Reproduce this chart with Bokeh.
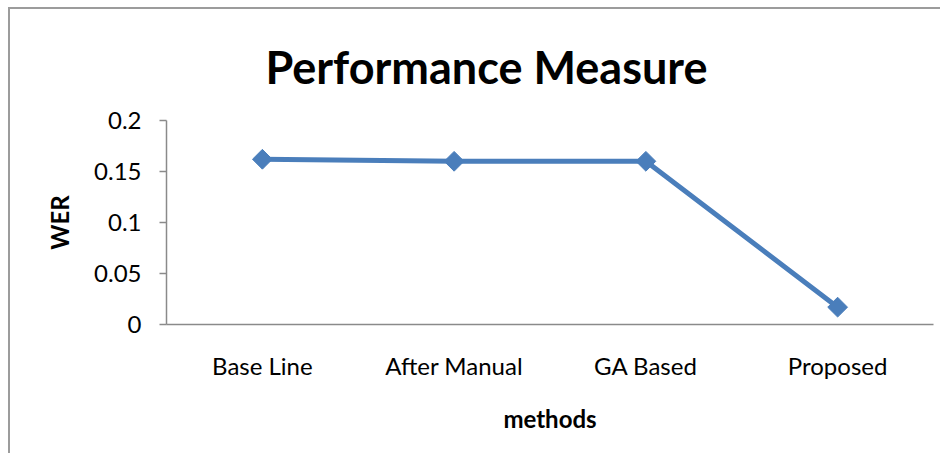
import numpy as np
from bokeh.plotting import figure
from bokeh.models import FactorRange, Range1d, FixedTicker, ColumnDataSource
from bokeh.embed import file_html
from bokeh.resources import INLINE

# ---- data ----
methods = ["Base Line", "After Manual", "GA Based", "Proposed"]
wer = [0.162, 0.160, 0.160, 0.017]
y_ticks = [0, 0.05, 0.1, 0.15, 0.2]
y_tick_labels = ["0", "0.05", "0.1", "0.15", "0.2"]

FONT = "Lato"
BLUE = "#4a7ebb"
AXIS = "#8a8a8a"

W, H = 932, 446
p = figure(width=W, height=H, x_range=FactorRange(*methods, range_padding=0),
           y_range=Range1d(0, 0.2), output_backend="svg", toolbar_location=None,
           min_border_left=156, min_border_right=9, min_border_top=111, min_border_bottom=131)
p.styles = {"margin-left": "8px", "margin-top": "7px",
            "border-left": "2px solid #9c9c9c", "border-top": "2px solid #9c9c9c"}
p.outline_line_color = None
p.xgrid.grid_line_color = None
p.ygrid.grid_line_color = None
p.background_fill_color = "white"
p.border_fill_color = "white"

src = ColumnDataSource(dict(x=methods, y=wer))
p.line("x", "y", source=src, line_color=BLUE, line_width=5)
p.scatter("x", "y", source=src, marker="square", angle=np.pi / 4, size=14,
          fill_color=BLUE, line_color=BLUE)

# title
p.title.text = "Performance Measure"
p.title.align = "left"
p.title.offset = 99
p.title.standoff = 54
p.title.text_font = FONT
p.title.text_font_style = "bold"
p.title.text_font_size = "45px"
p.title.text_color = "black"

# y axis
ya = p.yaxis[0]
ya.ticker = FixedTicker(ticks=y_ticks)
ya.major_label_overrides = {t: l for t, l in zip(y_ticks, y_tick_labels)}
ya.minor_tick_line_color = None
ya.major_tick_in = 0
ya.major_tick_out = 7
ya.axis_line_color = AXIS
ya.axis_line_width = 1.5
ya.major_tick_line_color = AXIS
ya.major_tick_line_width = 1.5
ya.major_label_text_font = FONT
ya.major_label_text_font_size = "24px"
ya.major_label_text_color = "black"
ya.major_label_standoff = 18
ya.axis_label = "WER"
ya.axis_label_text_font = FONT
ya.axis_label_text_font_style = "bold"
ya.axis_label_text_font_size = "24px"
ya.axis_label_text_color = "black"
ya.axis_label_standoff = 17

# x axis
xa = p.xaxis[0]
xa.major_tick_in = 0
xa.major_tick_out = 0
xa.minor_tick_line_color = None
xa.axis_line_color = AXIS
xa.axis_line_width = 1.5
xa.major_label_text_font = FONT
xa.major_label_text_font_size = "24px"
xa.major_label_text_color = "black"
xa.major_label_standoff = 26
xa.axis_label = "methods"
xa.axis_label_text_font = FONT
xa.axis_label_text_font_style = "bold"
xa.axis_label_text_font_size = "24px"
xa.axis_label_text_color = "black"
xa.axis_label_standoff = 21

open("out.html", "w").write(file_html(p, INLINE))
